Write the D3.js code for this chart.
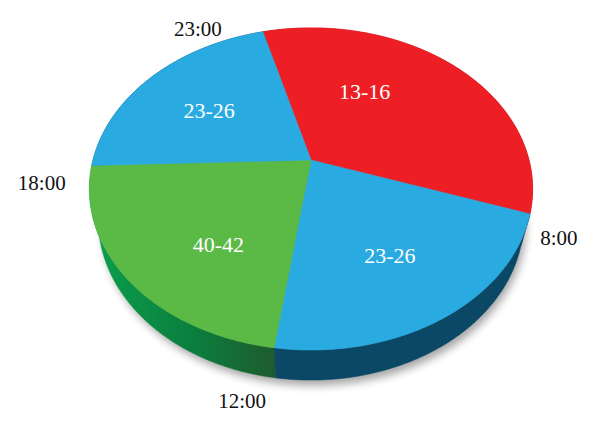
<!DOCTYPE html>
<html><head><meta charset="utf-8">
<script src="https://cdn.jsdelivr.net/npm/d3@7"></script>
<style>html,body{margin:0;padding:0;background:#fff}</style>
</head><body><svg id="c" width="600" height="431"></svg>
<script>
// ---- data ----
const categories = ["13-16", "23-26", "40-42", "23-26"];
const values = [124, 79, 80, 77];            // slice sizes (degrees)
const timeLabels = ["23:00", "8:00", "12:00", "18:00"]; // label at start boundary of each slice
const topColors = ["#ed1f24", "#29abe2", "#5bb946", "#29abe2"];
const sideColors = ["#a8161b", "#0a4865", "url(#greenSide)", "#0a4865"];

// ---- layout ----
const cx = 311, cy = 160, R = 218, sinT = 0.715, cosT = 0.699, D = 847, T = 48;
const deg = Math.PI / 180;
const labelAngle = [29, 149.5, 218, 304.4];
const labelRadius = [120, 140, 137, 131];
const timeOffset = [[-65, -3], [29, 24], [-32, 53], [-50, 17]];

function proj(a, r, t) {
  const u = r * Math.sin(a), v = -r * Math.cos(a);
  const Y = v * sinT + t * cosT, Z = v * cosT - t * sinT;
  const s = D / (D - Z);
  return [cx + u * s, cy + Y * s];
}
function arcPts(a0, a1, t) {
  const n = Math.max(2, Math.ceil((a1 - a0) / (Math.PI / 360)));
  return d3.range(n + 1).map(i => proj(a0 + (a1 - a0) * i / n, R, t));
}

const svg = d3.select("#c");
const defs = svg.append("defs");
const g = defs.append("linearGradient").attr("id", "greenSide")
  .attr("gradientUnits", "userSpaceOnUse").attr("x1", 95).attr("y1", 0).attr("x2", 278).attr("y2", 0);
g.append("stop").attr("offset", "0").attr("stop-color", "#0a9e4c");
g.append("stop").attr("offset", "0.55").attr("stop-color", "#0b7d3d");
g.append("stop").attr("offset", "1").attr("stop-color", "#1f5a2c");
const f = defs.append("filter").attr("id", "blur").attr("x", "-20%").attr("y", "-20%").attr("width", "140%").attr("height", "140%");
f.append("feGaussianBlur").attr("stdDeviation", 4);

const pie = d3.pie().sort(null).value(d => d)
  .startAngle(-15 * deg).endAngle(345 * deg);
const arcs = pie(values);
const line = d3.line();

// shadow
svg.append("path")
  .attr("d", line(arcPts(0, 2 * Math.PI, T + 4)) + "Z")
  .attr("transform", "translate(3,3)")
  .attr("fill", "#000").attr("opacity", 0.35).attr("filter", "url(#blur)");

// sides
const sides = arcs.map((a, i) => ({a, i, depth: -Math.cos((a.startAngle + a.endAngle) / 2)}))
  .sort((p, q) => p.depth - q.depth);
svg.append("g").selectAll("path").data(sides).join("path")
  .attr("d", d => line(arcPts(d.a.startAngle, d.a.endAngle, 0)
      .concat(arcPts(d.a.startAngle, d.a.endAngle, T).reverse())) + "Z")
  .attr("fill", d => sideColors[d.i]).attr("stroke", d => sideColors[d.i]).attr("stroke-width", 0.5);

// tops
svg.append("g").selectAll("path").data(arcs).join("path")
  .attr("d", d => line([proj(0, 0, 0)].concat(arcPts(d.startAngle, d.endAngle, 0))) + "Z")
  .attr("fill", (d, i) => topColors[i]).attr("stroke", (d, i) => topColors[i]).attr("stroke-width", 0.5);

// slice labels
svg.append("g").selectAll("text").data(arcs).join("text")
  .attr("x", (d, i) => proj(labelAngle[i] * deg, labelRadius[i], 0)[0])
  .attr("y", (d, i) => proj(labelAngle[i] * deg, labelRadius[i], 0)[1])
  .attr("dy", "0.35em").attr("text-anchor", "middle")
  .attr("font-family", "'Liberation Serif', 'Times New Roman', serif")
  .attr("font-size", 22).attr("fill", "#fff")
  .text((d, i) => categories[i]);

// time labels
svg.append("g").selectAll("text").data(arcs).join("text")
  .attr("x", (d, i) => proj(d.startAngle, R, 0)[0] + timeOffset[i][0])
  .attr("y", (d, i) => proj(d.startAngle, R, 0)[1] + timeOffset[i][1])
  .attr("dy", "0.35em").attr("text-anchor", "middle")
  .attr("font-family", "'Liberation Serif', 'Times New Roman', serif")
  .attr("font-size", 21).attr("fill", "#111")
  .text((d, i) => timeLabels[i]);
</script></body></html>
